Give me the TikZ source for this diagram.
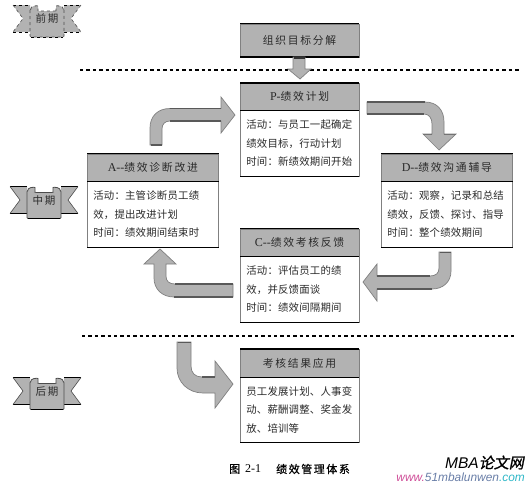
\documentclass[tikz,border=0pt]{standalone}
\usepackage{fontspec}
\setmainfont{Noto Sans CJK SC}
\newfontfamily\wmfont{Liberation Sans}
\newfontfamily\latinfont{Liberation Serif}
\newfontfamily\cjkwm[FakeSlant=0.2,FakeBold=1.2]{Noto Sans CJK SC}
\newfontfamily\headfont[LetterSpace=16]{Noto Sans CJK SC}
\newfontfamily\bodyfont[LetterSpace=2]{Noto Sans CJK SC}
\newfontfamily\capfont[FakeBold=.5,LetterSpace=14]{Noto Sans CJK SC}
\newcommand{\lat}[1]{{\latinfont\fontsize{12}{13}\selectfont #1}}
\definecolor{panelgray}{HTML}{B2B2B2}
\definecolor{edgegray}{HTML}{808080}
\definecolor{inkgray}{HTML}{2A2A2A}
\definecolor{wmpink}{HTML}{D0509A}
\definecolor{wmblue}{HTML}{6A7FA8}
\definecolor{wmcyan}{HTML}{30B8C8}
\tikzset{
  x=1pt,y=-1pt,
  head/.style={draw=edgegray,line width=.6pt,fill=panelgray,anchor=north west,inner sep=0pt,
    text=inkgray,font=\headfont\fontsize{10.8}{13}\selectfont,align=center},
  body/.style={draw=edgegray,line width=.6pt,fill=white,anchor=north west,inner sep=0pt,
    text=inkgray,font=\bodyfont\fontsize{10.4}{18.5}\selectfont,align=left},
  heavy/.style={line width=1.5pt,black},
  sep/.style={dash pattern=on 3.4pt off 3pt,line width=1.6pt,black},
  blockarrow/.style={fill=panelgray,draw=edgegray,line width=.7pt,line join=miter},
  dark/.style={line width=1.1pt,black!65},
  lbl/.style={inner sep=0pt,text=inkgray,font=\headfont\fontsize{10.5}{12}\selectfont},
  tail/.style={fill=panelgray,draw=none},
  edge/.style={line width=1pt,black},
  scrollbody/.style={fill=panelgray,draw=black!70,line width=.7pt,rounded corners=1pt},
}
% \panel{name}{x}{width}{top}{divider}{bottom}{title}{body}
\newcommand{\panel}[8]{%
  \node[head,minimum width=#3pt,minimum height={(#5-#4)*1pt}] (#1h) at (#2,#4) {#7};
  \node[body,minimum width=#3pt,minimum height={(#6-#5)*1pt},text width={(#3-12)*1pt}] (#1b) at (#2,#5) {#8};
  \draw[heavy] (#1h.north west) -- (#1h.north east);
  \draw[heavy] (#1h.south west) -- (#1h.south east);
  \draw[heavy] (#1b.south west) -- (#1b.south east);
}
% \bannerfig{name}{x}{top}{text}{extra}
\newcommand{\bannerfig}[5]{%
  \begin{scope}[shift={(#2,#3)}]
    \path[tail] (0,0) -- (17,0) -- (17,27) -- (0,27) -- (10,13.5) -- cycle;
    \path[tail] (68,0) -- (51,0) -- (51,27) -- (68,27) -- (58,13.5) -- cycle;
    \draw[edge,#5] (0,0) -- (17,0);
    \draw[edge,#5] (51,0) -- (68,0);
    \draw[edge,#5] (0,27) -- (17,27);
    \draw[edge,#5] (51,27) -- (68,27);
    \draw[black!70,line width=.6pt,#5] (0,0) -- (10,13.5) -- (0,27);
    \draw[black!70,line width=.6pt,#5] (68,0) -- (58,13.5) -- (68,27);
    \draw[scrollbody,#5] (17,4) -- (17,32) -- (51,32) -- (51,4) -- (45,4) -- (43,6) -- (25,6) -- (23,4) -- cycle;
    \draw[edge,#5] (18,32.3) -- (50,32.3);
    \draw[black!70,fill=panelgray,line width=.8pt,#5] (17.5,4.5) .. controls (17.5,.5) and (24,.5) .. (25,1) -- (25,6);
    \draw[black!70,fill=panelgray,line width=.8pt,#5] (50.5,4.5) .. controls (50.5,.5) and (44,.5) .. (43,1) -- (43,6);
    \node[lbl] (#1) at (34,14) {#4};
  \end{scope}
}
\begin{document}
\begin{tikzpicture}
\useasboundingbox (0,0) rectangle (527,483);
\fill[white] (0,0) rectangle (527,483);

% separators
\coordinate (s1a) at (80,70); \coordinate (s1b) at (519,70);
\coordinate (s2a) at (82,336); \coordinate (s2b) at (517,336);
\draw[sep] (s1a) -- (s1b);
\draw[sep] (s2a) -- (s2b);

% top box
\node[head,minimum width=118.5pt,minimum height=33pt] (goal) at (240,23.5) {组织目标分解};
\draw[heavy] (goal.north west) -- (goal.north east);
\draw[heavy] (goal.south west) -- (goal.south east);

\panel{p}{240}{118.5}{83}{110}{176}{\lat{P-}绩效计划}{活动：与员工一起确定\\绩效目标，行动计划\\时间：新绩效期间开始}
\panel{a}{87}{131}{153.5}{181}{247}{\lat{A--}绩效诊断改进}{活动：主管诊断员工绩\\效，提出改进计划\\时间：绩效期间结束时}
\panel{d}{381}{131}{153.5}{181}{247}{\lat{D--}绩效沟通辅导}{活动：观察，记录和总结\\绩效，反馈、探讨、指导\\时间：整个绩效期间}
\panel{c}{240}{118.5}{228.5}{256}{322}{\lat{C--}绩效考核反馈}{活动：评估员工的绩\\效，并反馈面谈\\时间：绩效间隔期间}
\panel{r}{240}{118.5}{349}{377}{442}{考核结果应用}{员工发展计划、人事变\\动、薪酬调整、奖金发\\放、培训等}

% goal -> P
\draw[blockarrow] (293,57) -- (305,57) -- (305,69) -- (311,69) -- (300,79) -- (288,69) -- (293,69) -- cycle;
\draw[line width=2pt,black!80] (293.5,58) -- (304.5,58);

% A -> P
\draw[blockarrow] (150,145) -- (150,128) .. controls (150,116) and (158,108.5) .. (170,108.5) -- (221,108.5) -- (221,97) -- (235,115) -- (221,133) -- (221,121) -- (170,121) .. controls (165,121) and (162,124) .. (162,129) -- (162,145) -- cycle;
\draw[dark] (170,108.5) -- (221,108.5);
\draw[dark] (170,121) -- (221,121);
\draw[dark] (150.5,145) -- (161.5,145);

% P -> D
\draw[blockarrow] (367,102) -- (425,102) .. controls (437,102) and (444,110) .. (444,122) -- (444,134) -- (456,134) -- (439,150) -- (423,134) -- (432,134) -- (432,124) .. controls (432,118) and (429,114) .. (424,114) -- (367,114) -- cycle;
\draw[dark] (367,102) -- (425,102);
\draw[dark] (367,114) -- (424,114);
\draw[line width=.9pt,black!55] (423,134) -- (432,134) (444,134) -- (456,134);

% D -> C
\draw[blockarrow] (439,252) -- (451,252) -- (451,271) .. controls (451,282) and (443,289) .. (432,289) -- (377,289) -- (377,301) -- (363,282) -- (377,264) -- (377,276) -- (430,276) .. controls (436,276) and (439,273) .. (439,268) -- cycle;
\draw[dark] (377,289) -- (432,289);
\draw[dark] (377,276) -- (430,276);
\draw[dark] (439.5,252.5) -- (450.5,252.5);

% C -> A
\draw[blockarrow] (233,284) -- (233,297) -- (174,297) .. controls (162,297) and (154,289) .. (154,278) -- (154,264) -- (144,264) -- (160,249) -- (176,264) -- (166,264) -- (166,276) .. controls (166,281) and (169,284) .. (175,284) -- cycle;
\draw[dark] (174,297) -- (233,297);
\draw[dark] (175,284) -- (233,284);

% bottom -> results
\draw[blockarrow] (177,342) -- (191,342) -- (191,366) .. controls (191,373) and (195,377) .. (202,377) -- (215,377) -- (215,361) -- (233,384) -- (215,408) -- (215,393) -- (203,393) .. controls (188,393) and (177,382) .. (177,368) -- cycle;
\draw[dark] (177.5,342.5) -- (190.5,342.5);
\draw[dark] (202,377) -- (215,377);

% banners
\bannerfig{early}{13}{5}{前期}{dashed}
\bannerfig{mid}{10}{186.5}{中期}{}
\bannerfig{late}{13}{377.5}{后期}{}

% caption
\node[inner sep=0pt,anchor=west,text=black,font=\capfont\fontsize{11}{13}\selectfont] (capa) at (229,469) {图};
\node[inner sep=0pt,anchor=west,text=black,font=\latinfont\fontsize{12}{13}\selectfont] (capb) at (245,469) {2-1};
\node[inner sep=0pt,anchor=west,text=black,font=\capfont\fontsize{11}{13}\selectfont] (capc) at (276,469) {绩效管理体系};

% watermark
\node[inner sep=0pt,anchor=east,text=black] (wm1) at (524,462.5) {\wmfont\fontsize{15.5}{16}\selectfont\itshape MBA\cjkwm\fontsize{15}{16}\selectfont 论文网};
\node[inner sep=0pt,anchor=east] (wm2) at (525,477) {\wmfont\fontsize{11.9}{13}\selectfont\itshape\textcolor{wmpink}{www.}\textcolor{wmblue}{51mbalunwen}\textcolor{wmcyan}{.com}};
\end{tikzpicture}
\end{document}
